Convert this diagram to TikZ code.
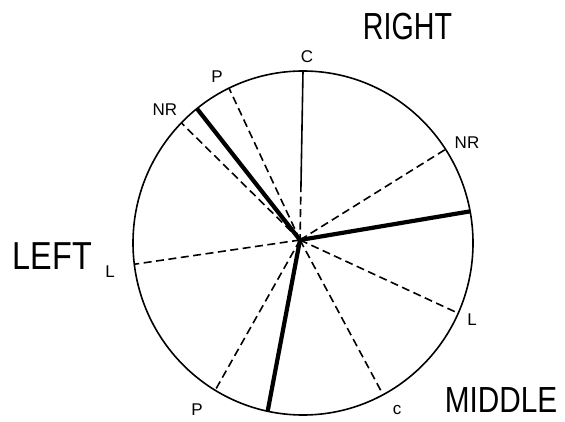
\documentclass[tikz,border=0pt]{standalone}
\usepackage{fontspec}
\setmainfont{Liberation Sans}
\usetikzlibrary{calc}
\begin{document}
\begin{tikzpicture}[x=1pt,y=1pt,
  rim/.style={line width=1.6pt},
  dashspoke/.style={line width=1.6pt, dash pattern=on 8pt off 4.5pt},
  thinspoke/.style={line width=1.6pt},
  thickspoke/.style={line width=4.2pt},
  small/.style={inner sep=0pt, font=\fontsize{17}{17}\selectfont},
  big/.style={inner sep=0pt}]
\useasboundingbox (0,0) rectangle (565,421);
\coordinate (O) at (303,178);
\coordinate (H) at (300,181);
\draw[rim] (O) ellipse [x radius=170, y radius=172];
% spoke ends on the rim
\coordinate (Ct) at ($(O)+(90:170 and 172)$);
\coordinate (Pt) at ($(O)+(115.8:170 and 172)$);
\coordinate (NRk) at ($(O)+(128.6:170 and 172)$);
\coordinate (NRd) at ($(O)+(135.7:170 and 172)$);
\coordinate (Ll) at ($(O)+(187.1:170 and 172)$);
\coordinate (Pb) at ($(O)+(238.9:170 and 172)$);
\coordinate (Bk) at ($(O)+(258:170 and 172)$);
\coordinate (Cb) at ($(O)+(298.1:170 and 172)$);
\coordinate (Lr) at ($(O)+(335.9:170 and 172)$);
\coordinate (Rk) at ($(O)+(10.6:170 and 172)$);
\coordinate (NRr) at ($(O)+(33:170 and 172)$);
\coordinate (Cm) at ($(H)!0.33!(Ct)$);
% spokes
\draw[thinspoke] (Ct) -- (Cm);
\draw[dashspoke] (Cm) -- (H);
\draw[dashspoke] (H) -- (Pt);
\draw[thickspoke] (H) -- (NRk);
\draw[dashspoke] (H) -- (NRd);
\draw[dashspoke] (H) -- (Ll);
\draw[dashspoke] (H) -- (Pb);
\draw[thickspoke] (H) -- (Bk);
\draw[dashspoke] (H) -- (Cb);
\draw[dashspoke] (H) -- (Lr);
\draw[thickspoke] (H) -- (Rk);
\draw[dashspoke] (H) -- (NRr);
% small labels
\node[small] (lC) at (307,364) {C};
\node[small] (lP) at (217,344) {P};
\node[small] (lNR) at (165,311) {NR};
\node[small] (lNRr) at (467,278) {NR};
\node[small] (lLr) at (472,101) {L};
\node[small] (lLl) at (110,149) {L};
\node[small] (lPb) at (197,11) {P};
\node[small] (lCb) at (397,11) {c};
% big labels
\node[big, font=\fontsize{37.7}{38}\selectfont] (right) at (407.5,394.5) {\scalebox{0.76}[1]{RIGHT}};
\node[big, font=\fontsize{39}{39}\selectfont] (left) at (52.5,165) {\scalebox{0.83}[1]{LEFT}};
\node[big, font=\fontsize{36.3}{36}\selectfont] (middle) at (501,21) {\scalebox{0.82}[1]{MIDDLE}};
\end{tikzpicture}
\end{document}
